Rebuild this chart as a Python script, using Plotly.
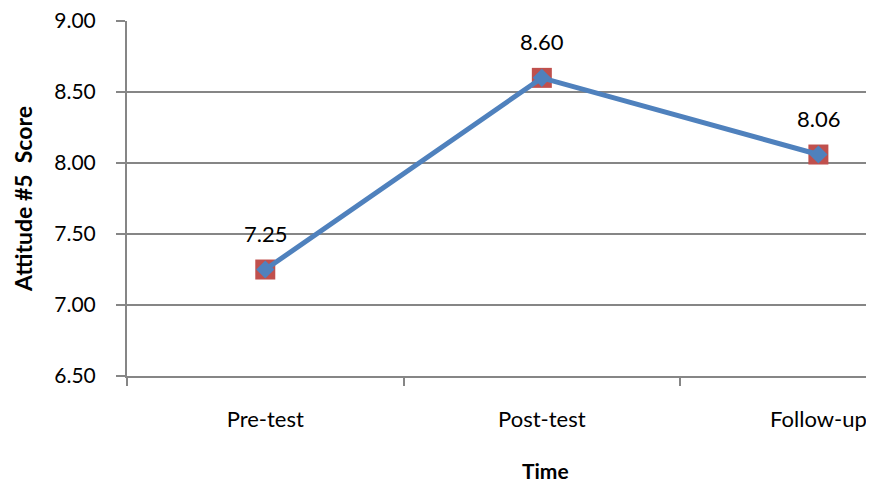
import plotly.graph_objects as go

categories = ["Pre-test", "Post-test", "Follow-up"]
scores = [7.25, 8.60, 8.06]
y_ticks = [6.5, 7.0, 7.5, 8.0, 8.5, 9.0]

FONT = "Lato"
GRAY = "#868686"

fig = go.Figure()
fig.add_trace(go.Scatter(
    x=categories, y=scores, mode="markers",
    marker=dict(symbol="square", size=20, color="#C0504D"),
    showlegend=False, hoverinfo="skip"))
fig.add_trace(go.Scatter(
    x=categories, y=scores, mode="lines+markers",
    line=dict(color="#4F81BD", width=5),
    marker=dict(symbol="diamond", size=14, color="#4F81BD"),
    showlegend=False))

for c, v in zip(categories, scores):
    fig.add_annotation(x=c, y=v, text=f"{v:.2f}", showarrow=False,
                       yshift=36, font=dict(family=FONT, size=22, color="#000"))

# axis titles
fig.add_annotation(xref="paper", yref="paper", x=(541 - 127) / (874 - 127), y=0,
                   yshift=-94, xanchor="center", yanchor="middle",
                   text="<b>Time</b>", showarrow=False,
                   font=dict(family=FONT, size=21, color="#000"))
fig.add_annotation(xref="paper", yref="paper", x=0, xshift=-104,
                   y=(376 - 199) / (376 - 21), xanchor="center", yanchor="middle",
                   text="<b>Attitude #5  Score</b>",
                   textangle=-90, showarrow=False,
                   font=dict(family=FONT, size=23, color="#000"))

fig.update_layout(
    width=874, height=485,
    margin=dict(l=119, r=0, t=13, b=117),
    paper_bgcolor="white", plot_bgcolor="white",
    font=dict(family=FONT, size=22, color="#000"),
)
fig.update_xaxes(
    type="category", range=[-0.5, 2.23], tickson="boundaries",
    showgrid=False, showline=True, linecolor=GRAY, linewidth=2,
    ticks="outside", ticklen=8, tickcolor=GRAY, tickwidth=2,
    ticklabelstandoff=23, tickfont=dict(size=22),
    automargin=False,
)
fig.update_yaxes(
    range=[6.5, 9.0005], tickvals=y_ticks, tickformat=".2f",
    showgrid=True, gridcolor=GRAY, gridwidth=1.5,
    showline=True, linecolor=GRAY, linewidth=2,
    ticks="outside", ticklen=9, tickcolor=GRAY, tickwidth=2,
    ticklabelstandoff=16, tickfont=dict(size=21),
    ticklabeloverflow="allow",
    automargin=False, zeroline=False,
)

fig.write_html("out.html")
